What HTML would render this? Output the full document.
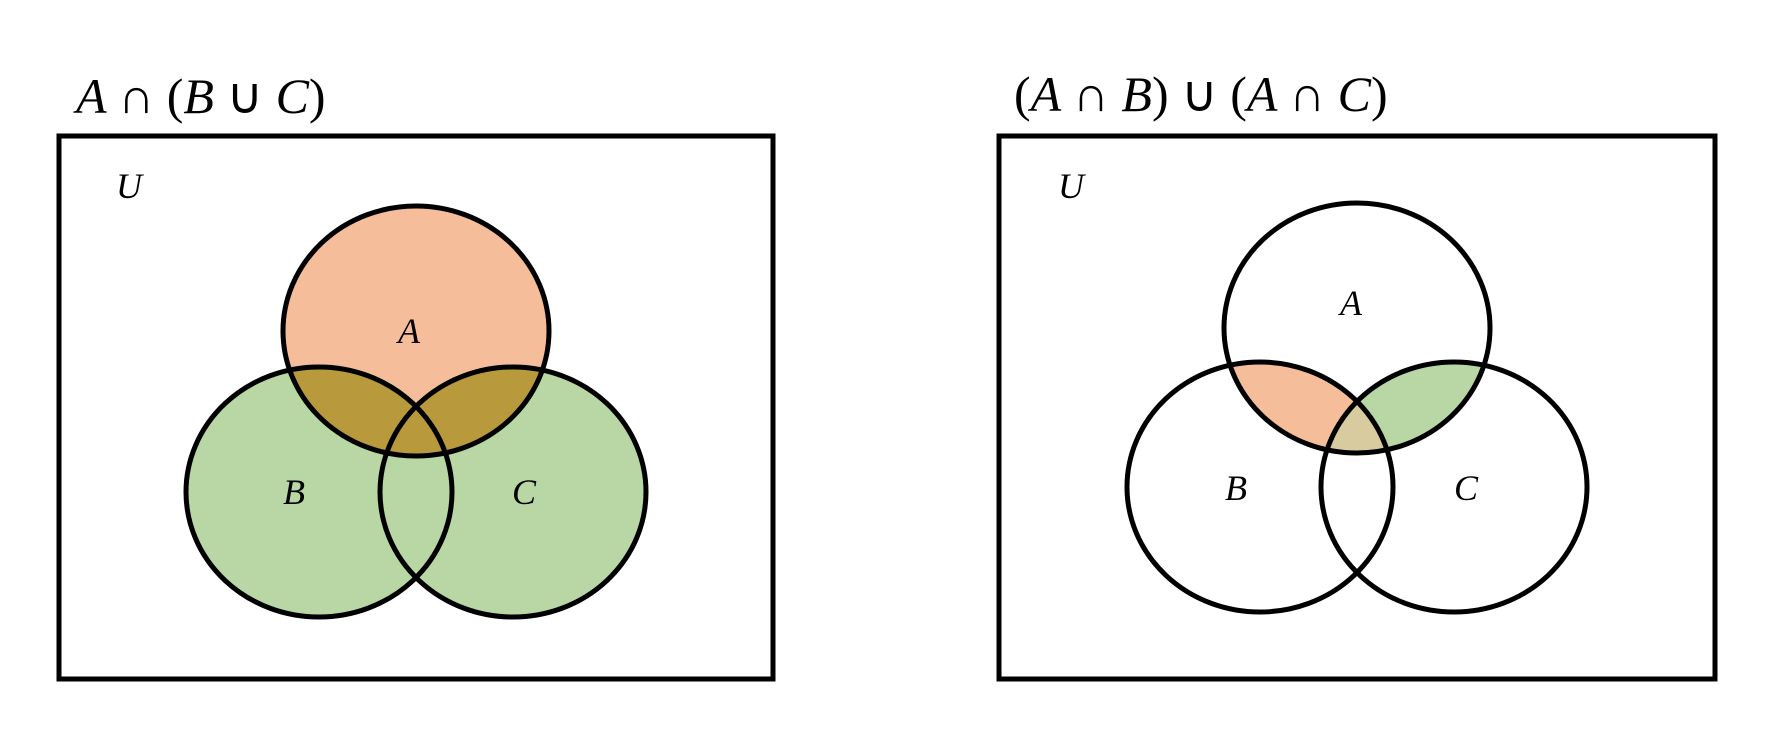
<!DOCTYPE html>
<html><head><meta charset="utf-8"><style>
html,body{margin:0;padding:0;background:#fff;width:1772px;height:734px;overflow:hidden}
svg{display:block}
text{font-family:"Liberation Serif",serif;font-style:italic;fill:#000}
.t{font-size:50px}
.l{font-size:36px}
</style></head><body>
<svg width="1772" height="734" viewBox="0 0 1772 734">
<defs>
<clipPath id="clA1"><ellipse cx="416" cy="331" rx="133" ry="125"/></clipPath>
<clipPath id="clA2"><ellipse cx="1357" cy="328" rx="133" ry="125"/></clipPath>
<clipPath id="clB2"><ellipse cx="1260" cy="487" rx="133" ry="125"/></clipPath>
<mask id="notC2"><rect width="1772" height="734" fill="#fff"/><ellipse cx="1454" cy="487" rx="133" ry="125" fill="#000"/></mask>
<mask id="notB2"><rect width="1772" height="734" fill="#fff"/><ellipse cx="1260" cy="487" rx="133" ry="125" fill="#000"/></mask>
</defs>

<g>
<text class="t" x="76" y="113">A <tspan font-style="normal">∩ (</tspan>B <tspan font-style="normal">∪</tspan> C<tspan font-style="normal">)</tspan></text>
<rect x="59" y="136" width="714" height="543" fill="none" stroke="#000" stroke-width="5"/>
<text class="l" x="116" y="198">U</text>
<ellipse cx="416" cy="331" rx="133" ry="125" fill="#f5bd99"/>
<ellipse cx="319" cy="492" rx="133" ry="125" fill="#b8d7a5"/>
<ellipse cx="513" cy="492" rx="133" ry="125" fill="#b8d7a5"/>
<g clip-path="url(#clA1)">
<ellipse cx="319" cy="492" rx="133" ry="125" fill="#b8993c"/>
<ellipse cx="513" cy="492" rx="133" ry="125" fill="#b8993c"/>
</g>
<g fill="none" stroke="#000" stroke-width="5">
<ellipse cx="416" cy="331" rx="133" ry="125"/>
<ellipse cx="319" cy="492" rx="133" ry="125"/>
<ellipse cx="513" cy="492" rx="133" ry="125"/>
</g>
<text class="l" x="409" y="343" text-anchor="middle">A</text>
<text class="l" x="294" y="504" text-anchor="middle">B</text>
<text class="l" x="524" y="504" text-anchor="middle">C</text>
</g>

<g>
<text class="t" x="1014" y="111"><tspan font-style="normal">(</tspan>A <tspan font-style="normal">∩</tspan> B<tspan font-style="normal">) ∪ (</tspan>A <tspan font-style="normal">∩</tspan> C<tspan font-style="normal">)</tspan></text>
<rect x="999" y="136" width="716" height="543" fill="none" stroke="#000" stroke-width="5"/>
<text class="l" x="1058" y="198">U</text>
<g clip-path="url(#clA2)">
<ellipse cx="1260" cy="487" rx="133" ry="125" fill="#f5bd99" mask="url(#notC2)"/>
<ellipse cx="1454" cy="487" rx="133" ry="125" fill="#b8d7a5" mask="url(#notB2)"/>
<g clip-path="url(#clB2)">
<ellipse cx="1454" cy="487" rx="133" ry="125" fill="#d9cba0"/>
</g>
</g>
<g fill="none" stroke="#000" stroke-width="5">
<ellipse cx="1357" cy="328" rx="133" ry="125"/>
<ellipse cx="1260" cy="487" rx="133" ry="125"/>
<ellipse cx="1454" cy="487" rx="133" ry="125"/>
</g>
<text class="l" x="1351" y="315" text-anchor="middle">A</text>
<text class="l" x="1236" y="500" text-anchor="middle">B</text>
<text class="l" x="1466" y="500" text-anchor="middle">C</text>
</g>
</svg>
</body></html>
